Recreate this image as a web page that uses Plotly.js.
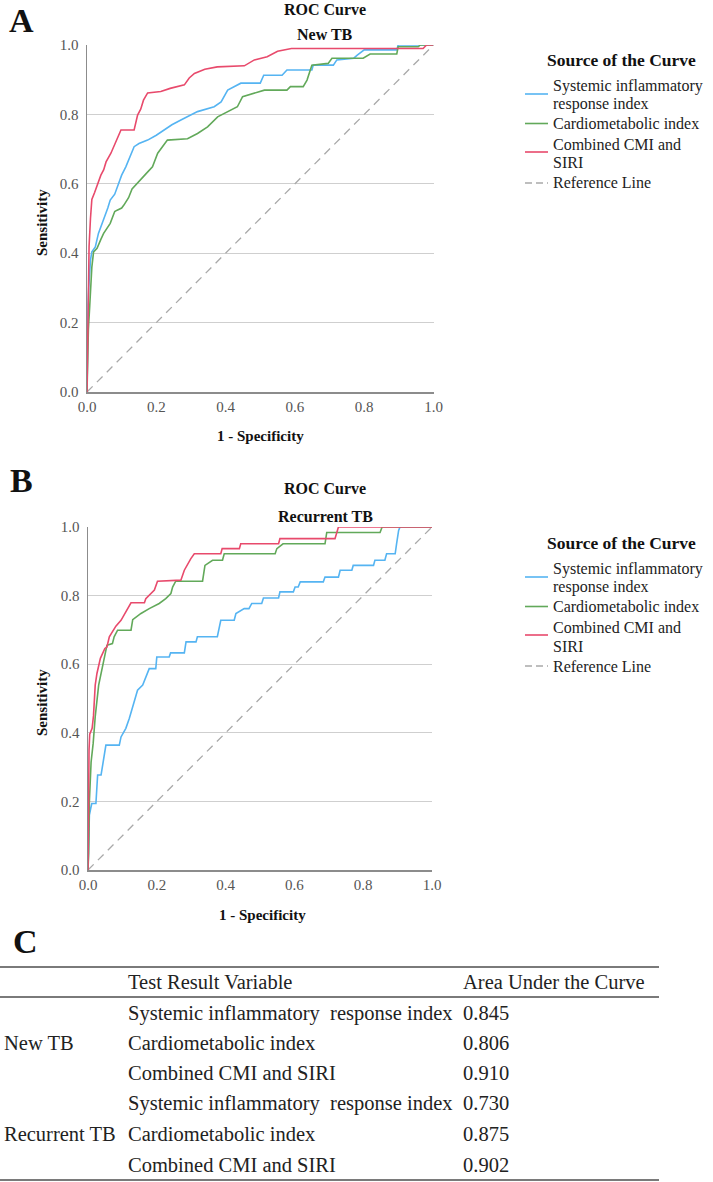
<!DOCTYPE html>
<html>
<head>
<meta charset="utf-8">
<script src="https://cdn.plot.ly/plotly-3.0.1.min.js"></script>
<style>html,body{margin:0;padding:0;background:#fff}#chart{width:713px;height:1182px}</style>
</head>
<body>
<div id="chart"></div>
<script>
// ---------- DATA ----------
const seriesNames = ['Systemic inflammatory response index', 'Cardiometabolic index', 'Combined CMI and SIRI', 'Reference Line'];
const legendLines = [['Systemic inflammatory', 'response index'], ['Cardiometabolic index'], ['Combined CMI and', 'SIRI'], ['Reference Line']];

// Panel A: New TB
const newSiriX = [0,0.001,0.003,0.005,0.01,0.014,0.024,0.033,0.048,0.06,0.067,0.08,0.091,0.1,0.112,0.125,0.136,0.15,0.175,0.2,0.223,0.245,0.271,0.3,0.319,0.367,0.387,0.406,0.444,0.5,0.51,0.563,0.577,0.649,0.653,0.711,0.721,0.77,0.78,0.8,0.894,0.898,1];
const newSiriY = [0,0.15,0.25,0.3,0.38,0.404,0.418,0.457,0.495,0.53,0.553,0.57,0.6,0.625,0.649,0.68,0.707,0.716,0.726,0.74,0.755,0.77,0.784,0.8,0.808,0.822,0.836,0.87,0.89,0.89,0.913,0.913,0.928,0.928,0.942,0.942,0.957,0.962,0.971,0.986,0.986,1,1];
const newCmiX = [0,0.002,0.004,0.008,0.012,0.014,0.019,0.029,0.04,0.048,0.067,0.08,0.087,0.1,0.106,0.12,0.13,0.144,0.163,0.176,0.189,0.204,0.232,0.29,0.319,0.348,0.377,0.406,0.434,0.449,0.483,0.512,0.577,0.587,0.624,0.635,0.649,0.696,0.707,0.797,0.817,0.894,0.898,0.956,0.962,1];
const newCmiY = [0,0.08,0.18,0.25,0.33,0.36,0.404,0.414,0.44,0.457,0.486,0.52,0.524,0.53,0.538,0.56,0.585,0.601,0.62,0.635,0.649,0.688,0.726,0.73,0.745,0.764,0.793,0.808,0.822,0.851,0.861,0.87,0.87,0.88,0.88,0.899,0.942,0.947,0.962,0.962,0.974,0.974,0.995,0.995,1,1];
const newCombX = [0,0.002,0.004,0.006,0.01,0.014,0.022,0.03,0.04,0.048,0.055,0.069,0.078,0.088,0.098,0.136,0.146,0.155,0.163,0.175,0.213,0.24,0.281,0.295,0.31,0.34,0.376,0.454,0.483,0.52,0.55,0.59,0.97,0.98,1];
const newCombY = [0,0.2,0.32,0.42,0.5,0.555,0.575,0.6,0.625,0.64,0.663,0.688,0.71,0.735,0.755,0.755,0.798,0.815,0.841,0.862,0.866,0.875,0.885,0.905,0.918,0.93,0.937,0.94,0.957,0.966,0.982,0.99,0.99,1,1];

// Panel B: Recurrent TB
const recSiriX = [0,0.002,0.004,0.008,0.011,0.023,0.026,0.028,0.038,0.045,0.052,0.091,0.096,0.11,0.12,0.134,0.144,0.159,0.168,0.178,0.197,0.2,0.236,0.24,0.28,0.285,0.314,0.318,0.376,0.386,0.425,0.43,0.454,0.468,0.476,0.505,0.51,0.554,0.558,0.597,0.602,0.611,0.617,0.684,0.689,0.728,0.733,0.767,0.771,0.83,0.834,0.863,0.868,0.893,0.897,0.903,0.907,1];
const recSiriY = [0,0.108,0.16,0.18,0.194,0.194,0.243,0.277,0.277,0.32,0.364,0.364,0.388,0.413,0.442,0.49,0.524,0.539,0.563,0.587,0.587,0.621,0.621,0.633,0.633,0.665,0.665,0.68,0.68,0.728,0.728,0.748,0.762,0.762,0.777,0.777,0.793,0.793,0.811,0.811,0.825,0.825,0.84,0.84,0.854,0.854,0.874,0.874,0.888,0.888,0.903,0.903,0.922,0.922,0.951,0.99,1,1];
const recCmiX = [0,0.002,0.004,0.006,0.009,0.015,0.021,0.031,0.045,0.055,0.071,0.076,0.086,0.125,0.13,0.154,0.178,0.207,0.226,0.241,0.246,0.255,0.333,0.338,0.34,0.362,0.391,0.396,0.544,0.549,0.567,0.689,0.694,0.849,0.855,1];
const recCmiY = [0,0.05,0.2,0.28,0.315,0.369,0.447,0.539,0.602,0.655,0.66,0.68,0.699,0.699,0.73,0.748,0.762,0.777,0.791,0.806,0.825,0.842,0.842,0.874,0.888,0.903,0.903,0.922,0.922,0.937,0.951,0.951,0.984,0.984,1,1];
const recCombX = [0,0.001,0.003,0.005,0.012,0.016,0.021,0.026,0.036,0.049,0.055,0.062,0.081,0.096,0.11,0.125,0.164,0.168,0.193,0.202,0.27,0.28,0.299,0.309,0.386,0.39,0.44,0.444,0.554,0.558,0.718,0.728,1];
const recCombY = [0,0.15,0.35,0.396,0.413,0.45,0.539,0.573,0.617,0.646,0.65,0.68,0.711,0.728,0.752,0.779,0.779,0.791,0.816,0.842,0.845,0.874,0.908,0.922,0.922,0.937,0.937,0.951,0.951,0.966,0.966,1,1];

const refX = [0, 1];
const refY = [0, 1];

// Table C
const tableGroups = ['New TB', 'Recurrent TB'];
const tableVariables = ['Systemic inflammatory\u00a0 response index', 'Cardiometabolic index', 'Combined CMI and SIRI'];
const aucNewTB = [0.845, 0.806, 0.910];
const aucRecurrentTB = [0.730, 0.875, 0.902];
const tableHeader = ['Test Result Variable', 'Area Under the Curve'];

// ---------- STYLE ----------
const W = 713, H = 1182;
const FONT = '"Times New Roman", "Liberation Serif", Tinos, "Nimbus Roman", "DejaVu Serif", serif';
const colors = ['#55b4f2', '#62a95a', '#e84a6c', '#a9a9a9'];
const px = p => p / W;
const py = p => 1 - p / H;

function panelTraces(xs, ys, xa, ya) {
  const tr = [];
  tr.push({x: refX, y: refY, xaxis: xa, yaxis: ya, mode: 'lines', name: seriesNames[3], showlegend: false,
    line: {color: colors[3], width: 1.3, dash: '8px,6px'}, hoverinfo: 'skip'});
  for (let i = 0; i < 3; i++) {
    tr.push({x: xs[i], y: ys[i], xaxis: xa, yaxis: ya, mode: 'lines', name: seriesNames[i], showlegend: false,
      line: {color: colors[i], width: 1.6}});
  }
  return tr;
}

const data = [
  ...panelTraces([newSiriX, newCmiX, newCombX], [newSiriY, newCmiY, newCombY], 'x', 'y'),
  ...panelTraces([recSiriX, recCmiX, recCombX], [recSiriY, recCmiY, recCombY], 'x2', 'y2')
];

function xAxis(dom, anchor) {
  return {domain: dom, anchor: anchor, range: [0, 1], dtick: 0.2, tick0: 0, tickformat: '.1f',
    showgrid: false, zeroline: false, showline: true, linecolor: '#8c8c8c', linewidth: 1.5, ticks: '',
    tickfont: {family: FONT, size: 15, color: '#555'}, fixedrange: true};
}
function yAxis(dom, anchor) {
  return {domain: dom, anchor: anchor, range: [0, 1], dtick: 0.2, tick0: 0, tickformat: '.1f',
    showgrid: true, gridcolor: '#cfcfcf', gridwidth: 1.3, zeroline: false, showline: true,
    linecolor: '#8c8c8c', linewidth: 1.5, ticks: '', ticklabelstandoff: 4,
    tickfont: {family: FONT, size: 15, color: '#555'}, fixedrange: true};
}

const ann = [];
const shapes = [];
function text(t, x, y, size, opts) {
  ann.push(Object.assign({text: t, x: px(x), y: py(y), xref: 'paper', yref: 'paper', showarrow: false,
    xanchor: 'center', yanchor: 'middle', font: {family: FONT, size: size, color: '#111'}}, opts || {}));
}
// panel letters
text('<b>A</b>', 21, 20, 34);
text('<b>B</b>', 21, 480, 34);
text('<b>C</b>', 25, 942, 34);
// titles
text('<b>ROC Curve</b>', 325, 10, 16);
text('<b>New TB</b>', 325, 34, 16);
text('<b>ROC Curve</b>', 325, 488, 16);
text('<b>Recurrent TB</b>', 325, 516, 16);
// axis titles
text('<b>Sensitivity</b>', 42, 223, 15, {textangle: -90});
text('<b>Sensitivity</b>', 42, 703, 15, {textangle: -90});
text('<b>1 - Specificity</b>', 260, 436, 15);
text('<b>1 - Specificity</b>', 262, 915, 15);

// legends (one per panel)
function legendBlock(dy) {
  text('<b>Source of the Curve</b>', 621, 60 + dy, 17.5);
  const lineY = [[85.5, 104], [123.5], [144.5, 163], [183]];
  const sampleY = [94, 123.5, 152, 183];
  legendLines.forEach((lines, i) => {
    lines.forEach((ln, j) => text(ln, 551, lineY[i][j] + dy, 16,
      {xanchor: 'left', font: {family: FONT, size: 16, color: '#222'}}));
    shapes.push({type: 'line', xref: 'paper', yref: 'paper', x0: px(525), x1: px(548),
      y0: py(sampleY[i] + dy), y1: py(sampleY[i] + dy),
      line: {color: colors[i], width: i === 3 ? 1.3 : 1.6, dash: i === 3 ? '7px,4px' : 'solid'}});
  });
}
legendBlock(0);
legendBlock(483);

// table
const TF = 20.5;
const tcol = {family: FONT, size: TF, color: '#222'};
text(tableHeader[0], 126, 982, TF, {xanchor: 'left', font: tcol});
text(tableHeader[1], 461, 982, TF, {xanchor: 'left', font: tcol});
const rowY = [1013, 1043, 1073, 1103, 1134, 1165];
const aucs = [aucNewTB, aucRecurrentTB];
tableGroups.forEach((g, gi) => {
  text(g, 2, rowY[gi * 3 + 1], TF, {xanchor: 'left', font: tcol});
  tableVariables.forEach((v, vi) => {
    const yy = rowY[gi * 3 + vi];
    text(v, 126, yy, TF, {xanchor: 'left', font: tcol});
    text(aucs[gi][vi].toFixed(3), 461, yy, TF, {xanchor: 'left', font: tcol});
  });
});
[967, 997, 1180].forEach(y => shapes.push({type: 'line', xref: 'paper', yref: 'paper',
  x0: 0, x1: px(659), y0: py(y), y1: py(y), line: {color: '#7a7a7a', width: 2}}));

const layout = {
  width: W, height: H, margin: {l: 0, r: 0, t: 0, b: 0}, paper_bgcolor: '#fff', plot_bgcolor: '#fff',
  showlegend: false,
  xaxis: xAxis([px(87), px(433.5)], 'y'),
  yaxis: yAxis([py(392), py(45)], 'x'),
  xaxis2: xAxis([px(88), px(432)], 'y2'),
  yaxis2: yAxis([py(870), py(527)], 'x2'),
  annotations: ann,
  shapes: shapes
};

Plotly.newPlot('chart', data, layout, {displayModeBar: false, staticPlot: true});
</script>
</body>
</html>
